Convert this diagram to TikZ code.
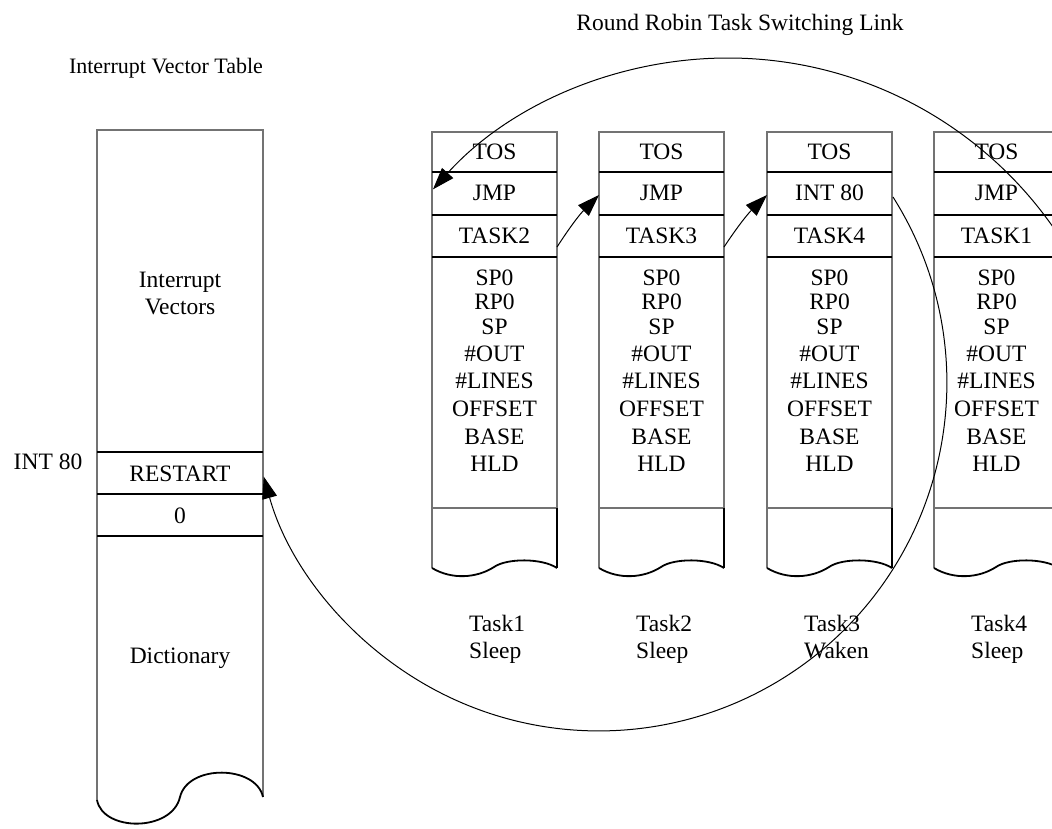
\documentclass[tikz,border=0pt]{standalone}
\usepackage{fontspec}
\setmainfont{Liberation Serif}
\usetikzlibrary{arrows.meta}
\tikzset{
  frame/.style={draw=black!55, line width=1.6pt},
  sepline/.style={draw=black, line width=2.6pt},
  edgeline/.style={draw=black, line width=1.8pt},
  lbl/.style={font=\fontsize{23.5}{27}\selectfont, inner sep=0pt},
  link/.style={draw=black, line width=1pt, -{Triangle[length=22pt,width=15pt]}}
}
\begin{document}
\begin{tikzpicture}[x=1pt,y=-1pt]
\useasboundingbox (0,0) rectangle (1052,828);
\clip (0,0) rectangle (1052,828);

% titles
\node[lbl, font=\fontsize{22}{26}\selectfont] (ivt) at (166,68) {Interrupt Vector Table};
\node[lbl] (rr) at (740,25) {Round Robin Task Switching Link};

% left column: interrupt vector table
\draw[frame] (97,800) -- (97,130) -- (263,130) -- (263,797);
\draw[edgeline] (97,800) .. controls (103,832) and (172,832) .. (180,797)
                .. controls (188,764) and (256,765) .. (263,797);
\foreach \yy in {452,494,536} \draw[sepline] (97,\yy) -- (263,\yy);
\node[lbl, align=center] (iv) at (180,293) {Interrupt\\Vectors};
\node[lbl] (int80) at (48,462) {INT 80};
\node[lbl] (restart) at (180,474) {RESTART};
\node[lbl] (zero) at (180,516) {0};
\node[lbl] (dict) at (180,658) {Dictionary};

% task columns
\foreach \i/\xl/\j/\t/\s in {1/432/JMP/TASK2/Sleep, 2/599/JMP/TASK3/Sleep, 3/767/INT 80/TASK4/Waken, 4/934/JMP/TASK1/Sleep}{
  \draw[frame] (\xl,568) -- (\xl,132) -- (\xl+125,132) -- (\xl+125,508);
  \draw[frame] (\xl,508) -- (\xl+125,508);
  \draw[edgeline] (\xl+125,508) -- (\xl+125,568);
  \draw[edgeline] (\xl,568) .. controls (\xl+20,580) and (\xl+45,578) .. (\xl+62,567)
                  .. controls (\xl+75,558) and (\xl+110,558) .. (\xl+125,568);
  \foreach \yy in {172,215,257} \draw[sepline] (\xl,\yy) -- (\xl+125,\yy);
  \node[lbl] (tos\i) at (\xl+62.5,152) {TOS};
  \node[lbl] (jmp\i) at (\xl+62.5,193) {\j};
  \node[lbl] (task\i) at (\xl+62.5,236) {\t};
  \foreach \k/\yy/\txt in {1/278/SP0, 2/302/RP0, 3/327/SP, 4/354/\#OUT, 5/381/\#LINES, 6/409/OFFSET, 7/437/BASE, 8/464/HLD}
    \node[lbl] (r\i-\k) at (\xl+62.5,\yy) {\txt};
  \node[lbl, align=left, anchor=north west] (name\i) at (\xl+37,615) {Task\i\\\s};
  \coordinate (out\i) at (\xl+125,247);
  \coordinate (in\i) at (\xl,195);
  \coordinate (rin\i) at (\xl+126,197);
}

% links
\draw[link] (out1) to[bend left=6] (in2);
\draw[link] (out2) to[bend left=6] (in3);
\draw[link] (rin3) arc[start angle=-32.3, end angle=164.4, radius=348];
\coordinate (topstart) at (1071.8,256.5);
\draw[link] (topstart) arc[start angle=-30, end angle=-138, radius=397];
\end{tikzpicture}
\end{document}
